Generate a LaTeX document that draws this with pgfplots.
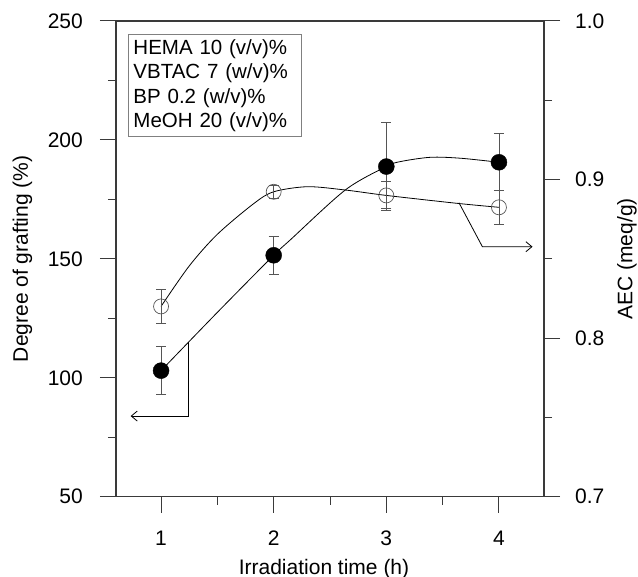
\documentclass[border=0pt]{standalone}
\usepackage{fontspec}
\setmainfont{Liberation Sans}
\usepackage{pgfplots}
\pgfplotsset{compat=1.18}
\usetikzlibrary{arrows.meta}
\definecolor{axgray}{HTML}{3A3A3A}
\definecolor{errgray}{HTML}{555555}
\begin{document}
\begin{tikzpicture}
\fontsize{21bp}{25bp}\selectfont
\pgfplotsset{
  common/.style={
    at={(0,0)}, anchor=south west,
    scale only axis, width=428bp, height=475.7bp,
    xmin=0.6, xmax=4.4,
    tick align=outside,
    major tick length=16bp, minor tick length=8bp,
    every tick/.style={draw=axgray, line width=1bp},
    axis line style={draw=axgray, line width=1.2bp},
    /pgf/number format/assume math mode=true,
    clip=false,
  },
  ebar/.style={error bars/.cd, y dir=both, y explicit,
    error bar style={draw=errgray, line width=0.9bp},
    error mark=-,
    error mark options={rotate=90, draw=errgray, line width=0.9bp, mark size=5bp}},
}
\begin{axis}[common,
  ymin=50, ymax=250,
  xtick={1,2,3,4}, ytick={50,100,150,200,250},
  minor xtick={1.5,2.5,3.5}, minor ytick={75,125,175,225},
  xtick pos=bottom, ytick pos=left,
  yticklabel style={anchor=east, inner sep=0pt, xshift=-17bp},
  xticklabel style={anchor=north, inner sep=0pt, yshift=-18bp},
  xlabel={Irradiation time (h)},
  xlabel style={at={(axis description cs:0.486,0)}, anchor=base, yshift=-77.3bp, inner sep=0pt},
  ylabel={Degree of grafting (\%)},
  ylabel style={at={(axis description cs:-0.2185,0.5)}, anchor=center, inner sep=0pt},
]
% fitted curve for degree of grafting
\addplot[black, line width=0.8bp, smooth, tension=0.5] coordinates {
 (1,103) (1.5,127.5) (2,151.5) (2.148,158) (2.637,179) (3,188.8) (3.126,190.9) (3.393,192.7) (3.66,192.3) (4,190.6)};
% data points with error bars
\addplot[only marks, mark=*, mark size=8bp, mark options={fill=black, draw=black}, ebar]
 coordinates {(1,103) +- (0,10) (2,151.5) +- (0,8) (3,188.8) +- (0,18.5) (4,190.6) +- (0,12)};
% annotation arrows
\draw[black, line width=0.8bp, -{Straight Barb[length=6bp, width=10bp]}] (axis cs:1.243,115.2) -- (axis cs:1.243,83.9) -- (axis cs:0.73,83.9);
\draw[black, line width=0.8bp, -{Straight Barb[length=6bp, width=10bp]}] (axis cs:3.645,173.6) -- (axis cs:3.853,155.1) -- (axis cs:4.298,155.1);
% condition box
\node[draw=gray, line width=0.9bp, anchor=north west, inner xsep=5bp, inner ysep=5bp, text width=163bp, align=left,
  font=\fontsize{20.5bp}{24.4bp}\selectfont] at ([xshift=12bp, yshift=-13bp]rel axis cs:0,1)
  {HEMA 10 (v/v)\%\\ VBTAC 7 (w/v)\%\\ BP 0.2 (w/v)\%\\ MeOH 20 (v/v)\%};
\end{axis}
\begin{axis}[common,
  ymin=0.7, ymax=1.0,
  axis x line=none, axis y line*=right,
  ytick={0.7,0.8,0.9,1.0}, minor ytick={0.75,0.85,0.95},
  yticklabel={\pgfmathprintnumber[fixed,fixed zerofill,precision=1]{\tick}},
  yticklabel style={anchor=west, inner sep=0pt, xshift=15bp},
  ylabel={AEC (meq/g)},
  ylabel style={at={(axis description cs:1.1939,0.5)}, anchor=center, rotate=0, inner sep=0pt},
]
\addplot[black, line width=0.8bp, smooth, tension=0.5] coordinates {
 (1,0.820) (1.25,0.8455) (1.5,0.8655) (1.822,0.8848) (2,0.8923) (2.3,0.8955) (2.637,0.8934) (3,0.890) (3.63,0.885) (4,0.8825)};
\addplot[only marks, mark=o, mark size=7.5bp, mark options={draw=errgray, line width=0.7bp}, ebar]
 coordinates {(1,0.820) +- (0,0.011) (2,0.8923) +- (0,0.004) (3,0.890) +- (0,0.0085) (4,0.8825) +- (0,0.0105)};
\end{axis}
\pgfresetboundingbox
\path (-116bp,-80.3bp) rectangle (522bp,496.7bp);
\end{tikzpicture}
\end{document}
